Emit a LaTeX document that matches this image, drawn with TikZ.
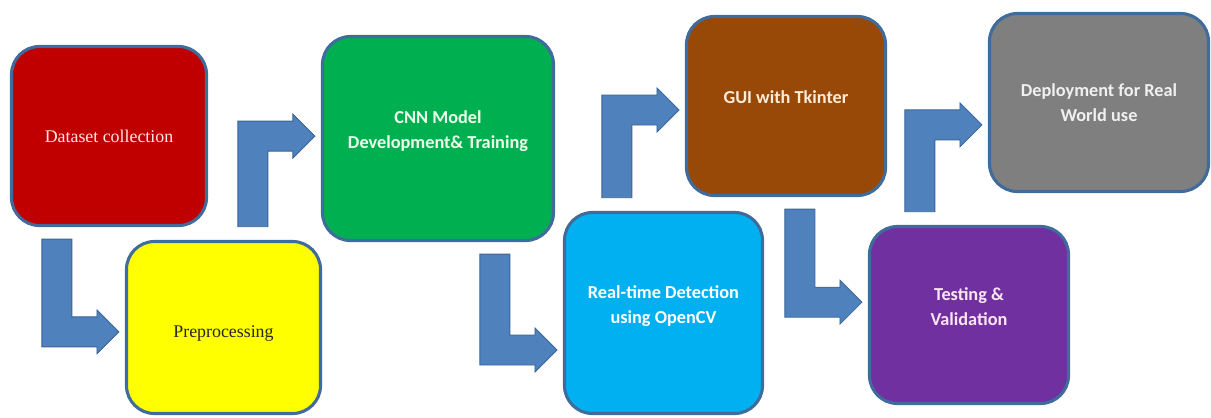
\documentclass[tikz,border=0pt]{standalone}
\usepackage{fontspec}
\setmainfont{Carlito}
\newfontfamily\stepserif{Liberation Serif}
\usepackage{xcolor}
\usetikzlibrary{positioning, calc}

\definecolor{boxline}{HTML}{3F6C9C}
\definecolor{arrowfill}{HTML}{4F81BD}
\definecolor{arrowline}{HTML}{3A6597}
\definecolor{dataRed}{HTML}{C00000}
\definecolor{prepYellow}{HTML}{FFFF00}
\definecolor{cnnGreen}{HTML}{00B050}
\definecolor{detBlue}{HTML}{00B0F0}
\definecolor{guiBrown}{HTML}{984807}
\definecolor{testPurple}{HTML}{7030A0}
\definecolor{deployGray}{HTML}{7F7F7F}

% bent arrow: down out of #1, then right into #2 (#3 = bar shift in cm)
\newcommand{\bendDown}[3]{%
  \filldraw[flowarrow] let \p1=(#1.south), \p2=(#2.west) in
    (\x2-2.075cm,\y1-0.3cm) -- (\x2-1.325cm,\y1-0.3cm)
    -- (\x2-1.325cm,#3cm+\y2+0.375cm) -- (\x2-0.7cm,#3cm+\y2+0.375cm)
    -- (\x2-0.7cm,#3cm+\y2+0.55cm) -- (\x2-0.15cm,#3cm+\y2)
    -- (\x2-0.7cm,#3cm+\y2-0.55cm) -- (\x2-0.7cm,#3cm+\y2-0.375cm)
    -- (\x2-2.075cm,#3cm+\y2-0.375cm) -- cycle;}
% bent arrow: up out of #1, then right into #2
\newcommand{\bendUp}[3]{%
  \filldraw[flowarrow] let \p1=(#1.north), \p2=(#2.west) in
    (\x2-2.075cm,\y1+0.33cm) -- (\x2-2.075cm,#3cm+\y2+0.375cm)
    -- (\x2-0.7cm,#3cm+\y2+0.375cm) -- (\x2-0.7cm,#3cm+\y2+0.55cm)
    -- (\x2-0.15cm,#3cm+\y2) -- (\x2-0.7cm,#3cm+\y2-0.55cm)
    -- (\x2-0.7cm,#3cm+\y2-0.375cm) -- (\x2-1.325cm,#3cm+\y2-0.375cm)
    -- (\x2-1.325cm,\y1+0.33cm) -- cycle;}

\begin{document}
\begin{tikzpicture}[x=0.025cm, y=-0.025cm,
  stage/.style={rectangle, rounded corners=0.7cm, draw=boxline, line width=2.2pt, align=center, font=\fontsize{13}{18}\selectfont\bfseries},
  serifstage/.style={stage, font={\stepserif\fontsize{12.7}{16}\selectfont}},
  textup/.style={text depth=0.43cm},
  flowarrow/.style={fill=arrowfill, draw=arrowline, line width=0.6pt}]

\useasboundingbox (0,0) rectangle (1211,417);

% Nodes
\node (data) [serifstage, fill=dataRed, text=red!10, minimum width=4.875cm, minimum height=4.475cm] at (109,136) {Dataset collection};
\node (prep) [serifstage, fill=prepYellow, text=black!85, text height=0.62cm, minimum width=4.85cm, minimum height=4.3cm] at (223.5,327.5) {Preprocessing};
\node (cnn) [stage, textup, fill=cnnGreen, text=green!8, minimum width=5.775cm, minimum height=5.1cm] at (438,138.5) {CNN Model\\Development\& Training};
\node (detect) [stage, textup, fill=detBlue, text=white, minimum width=4.95cm, minimum height=5.025cm] at (663.5,313) {Real-time Detection\\using OpenCV};
\node (gui) [stage, textup, fill=guiBrown, text=orange!15, minimum width=4.975cm, minimum height=4.475cm] at (786,106) {GUI with Tkinter};
\node (test) [stage, textup, fill=testPurple, text=magenta!10, minimum width=4.975cm, minimum height=4.425cm] at (969,315) {Testing \&\\Validation};
\node (deploy) [stage, fill=deployGray, text=black!6, minimum width=5.475cm, minimum height=4.45cm] at (1099,102.5) {Deployment for Real\\World use};

% Arrows
\bendDown{data}{prep}{-0.11}
\bendUp{prep}{cnn}{0.06}
\bendDown{cnn}{detect}{-0.925}
\bendUp{detect}{gui}{-0.1}
\bendDown{gui}{test}{0.32}
\bendUp{test}{deploy}{-0.56}

\end{tikzpicture}
\end{document}
